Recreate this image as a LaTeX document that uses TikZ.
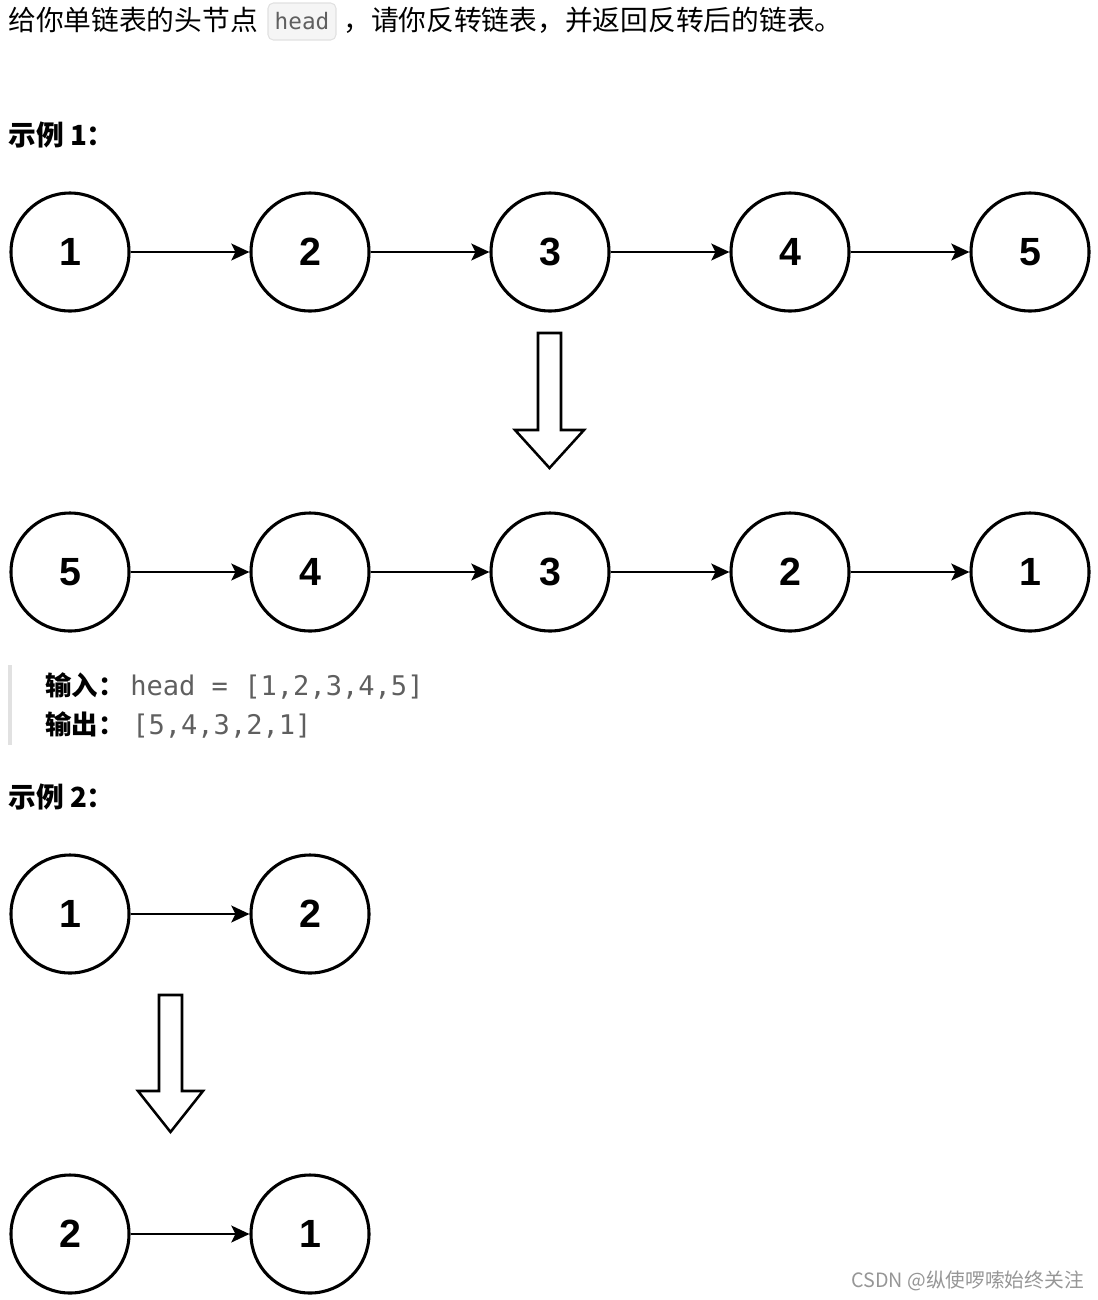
\documentclass[tikz,border=0pt]{standalone}
\usepackage{fontspec}
\setmainfont{Liberation Sans}
\newfontfamily\cjk{Noto Sans CJK SC}
\newfontfamily\codefont{DejaVu Sans Mono}
\newfontfamily\numfont{Liberation Sans}
\usetikzlibrary{arrows.meta}
\definecolor{codegray}{RGB}{95,95,95}
\definecolor{boxgray}{RGB}{245,245,245}
\definecolor{boxline}{RGB}{225,225,225}
\definecolor{bargray}{RGB}{225,225,225}
\definecolor{wmgray}{RGB}{150,150,150}
\begin{document}
\begin{tikzpicture}[x=0.75pt,y=-0.75pt,
  ln/.style={circle, draw, line width=2.3pt, minimum size=88.5pt, inner sep=0pt,
    font=\numfont\bfseries\fontsize{29.5}{29.5}\selectfont},
  lk/.style={line width=2.2pt, -{Stealth[length=13.5pt,width=12.5pt,inset=3pt]}},
  blk/.style={draw, line width=1.9pt, fill=white, line join=miter},
  txt/.style={anchor=base west, inner sep=0pt, font=\cjk\fontsize{20.8}{24}\selectfont},
  hd/.style={anchor=base west, inner sep=0pt, font=\cjk\bfseries\fontsize{20.8}{24}\selectfont},
  qlab/.style={anchor=base west, inner sep=0pt, font=\cjk\bfseries\fontsize{19.8}{22}\selectfont},
  qcode/.style={anchor=base west, inner sep=0pt, text=codegray, font=\codefont\fontsize{20.3}{22}\selectfont}
]
\useasboundingbox (0,0) rectangle (1098,1300);

% title line
\node[txt] (t1) at (8,30) {给你单链表的头节点};
\node[draw=boxline, fill=boxgray, rounded corners=4pt, line width=0.8pt,
      minimum width=51pt, minimum height=27.75pt, inner sep=0pt, text=codegray,
      font=\codefont\fontsize{17}{20}\selectfont] (code) at (302,21.5) {head};
\node[txt] (t2) at (343,30) {，请你反转链表，并返回反转后的链表。};

% example 1
\node[hd] (e1) at (8,145) {示例 1：};

\foreach \v [count=\i] in {1,2,3,4,5} {
  \node[ln] (a\i) at ({70+240*(\i-1)},252) {\v};
}
\foreach \v [count=\i] in {5,4,3,2,1} {
  \node[ln] (b\i) at ({70+240*(\i-1)},572) {\v};
}
\foreach \i/\j in {1/2,2/3,3/4,4/5} {
  \draw[lk] (a\i) -- (a\j);
  \draw[lk] (b\i) -- (b\j);
}
\draw[blk] (538,333) -- (561,333) -- (561,430) -- (584,430) -- (549.5,468)
  -- (515,430) -- (538,430) -- cycle;

% block quote
\fill[bargray] (8,665) rectangle (12,745);
\node[qlab] (in) at (45,695) {输入：};
\node[qcode] (inv) at (130,695) {head = [1,2,3,4,5]};
\node[qlab] (out) at (45,734) {输出：};
\node[qcode] (outv) at (132,734) {[5,4,3,2,1]};

% example 2
\node[hd] (e2) at (8,807) {示例 2：};
\node[ln] (c1) at (70,914) {1};
\node[ln] (c2) at (310,914) {2};
\draw[lk] (c1) -- (c2);
\draw[blk] (159,995) -- (182,995) -- (182,1091) -- (203,1091) -- (170.5,1132)
  -- (138,1091) -- (159,1091) -- cycle;
\node[ln] (d1) at (70,1234) {2};
\node[ln] (d2) at (310,1234) {1};
\draw[lk] (d1) -- (d2);

% watermark
\node[anchor=base west, inner sep=0pt, text=wmgray, font=\cjk\fontsize{14.8}{17}\selectfont]
  (wm) at (851,1287) {CSDN @纵使啰嗦始终关注};
\end{tikzpicture}
\end{document}
